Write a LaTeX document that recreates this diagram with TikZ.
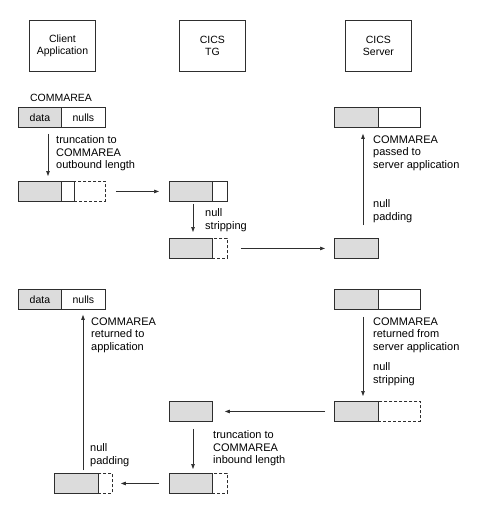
\documentclass[tikz,border=0pt]{standalone}
\usepackage{fontspec}
\setmainfont{Liberation Sans}
\usetikzlibrary{arrows.meta,calc}
\definecolor{lc}{HTML}{2E2E2E}
\definecolor{gf}{HTML}{DCDCDC}
\begin{document}
\begin{tikzpicture}[x=1pt,y=-1pt,
  hdr/.style={draw=lc,line width=0.9pt,minimum width=66pt,minimum height=51pt,inner sep=0pt,align=center,font=\fontsize{10.5}{12}\selectfont,anchor=north west},
  gseg/.style={draw=lc,fill=gf,line width=0.9pt,minimum height=20pt,inner sep=0pt,anchor=north west,font=\fontsize{10.5}{12}\selectfont},
  wseg/.style={gseg,fill=white},
  dseg/.style={gseg,fill=white,dash pattern=on 3pt off 2pt},
  arr/.style={draw=lc,line width=0.7pt,-{Triangle[length=5pt,width=3.5pt]}},
  lbl/.style={anchor=north west,inner sep=0pt,align=left,font=\fontsize{11}{12.5}\selectfont}
]
\fill[white] (0,0) rectangle (478,515);
\useasboundingbox (0,0) rectangle (478,515);

% headers
\node[hdr] (client) at (29,20) {Client\\Application};
\node[hdr] (tg) at (179,20) {CICS\\TG};
\node[hdr] (srv) at (345,20) {CICS\\Server};
\node[inner sep=0pt,font=\fontsize{10.5}{12}\selectfont] (cmlbl) at (61,98) {COMMAREA};

% row 1
\node[wseg,minimum width=44pt] (n1) at (61,107) {nulls};
\node[gseg,minimum width=43pt] (d1) at (18,107) {data};
\node[wseg,minimum width=42pt] (s1w) at (378,107) {};
\node[gseg,minimum width=44pt] (s1g) at (334,107) {};

% row 2
\node[dseg,minimum width=31pt] (l2d) at (74,181) {};
\node[wseg,minimum width=13pt] (l2w) at (61,181) {};
\node[gseg,minimum width=43pt] (l2g) at (18,181) {};
\node[wseg,minimum width=15pt] (t2w) at (212,181) {};
\node[gseg,minimum width=43pt] (t2g) at (169,181) {};

% row 3
\node[dseg,minimum width=15pt] (t3d) at (212,238) {};
\node[gseg,minimum width=43pt] (t3g) at (169,238) {};
\node[gseg,minimum width=44pt] (s3g) at (334,238) {};

% row 4
\node[wseg,minimum width=44pt] (n4) at (61,289) {nulls};
\node[gseg,minimum width=43pt] (d4) at (18,289) {data};
\node[wseg,minimum width=42pt] (s4w) at (378,289) {};
\node[gseg,minimum width=44pt] (s4g) at (334,289) {};

% row 5
\node[gseg,minimum width=43pt] (t5g) at (169,401) {};
\node[dseg,minimum width=42pt] (s5d) at (378,401) {};
\node[gseg,minimum width=44pt] (s5g) at (334,401) {};

% row 6
\node[dseg,minimum width=15pt] (t6d) at (212,473) {};
\node[gseg,minimum width=43pt] (t6g) at (169,473) {};
\node[dseg,minimum width=14pt] (l6d) at (98,473) {};
\node[gseg,minimum width=44pt] (l6g) at (54,473) {};

% arrows
\draw[arr] ($(d1.south west)+(30,6)$) -- ($(l2g.north west)+(30,-5)$);
\draw[arr] ($(l2d.east)+(10,0)$) -- ($(t2g.west)+(-10,0)$);
\draw[arr] ($(t2g.south west)+(24,2)$) -- ($(t3g.north west)+(24,-6)$);
\draw[arr] ($(t3d.east)+(13,0)$) -- ($(s3g.west)+(-9,0)$);
\draw[arr] ($(s3g.north west)+(29,-13)$) -- ($(s1g.south west)+(29,6)$);
\draw[arr] ($(s4g.south west)+(29,7)$) -- ($(s5g.north west)+(29,-5)$);
\draw[arr] ($(s5g.west)+(-9,0)$) -- ($(t5g.east)+(12,0)$);
\draw[arr] ($(t5g.south west)+(24,7)$) -- ($(t6g.north west)+(24,-4)$);
\draw[arr] ($(t6g.west)+(-10,0)$) -- ($(l6d.east)+(8,0)$);
\draw[arr] ($(l6g.north west)+(29,-3)$) -- ($(n4.south west)+(22,5)$);

% labels
\node[lbl] (lab1) at (56,135.5) {truncation to\\COMMAREA\\outbound length};
\node[lbl] (lab2) at (373,135.5) {COMMAREA\\passed to\\server application};
\node[lbl] (lab3) at (373,199.5) {null\\padding};
\node[lbl] (lab4) at (205,208.5) {null\\stripping};
\node[lbl] (lab5) at (91,317.5) {COMMAREA\\returned to\\application};
\node[lbl] (lab6) at (373,317.5) {COMMAREA\\returned from\\server application};
\node[lbl] (lab7) at (373,362.5) {null\\stripping};
\node[lbl] (lab8) at (213,430.5) {truncation to\\COMMAREA\\inbound length};
\node[lbl] (lab9) at (90,443.5) {null\\padding};
\end{tikzpicture}
\end{document}
